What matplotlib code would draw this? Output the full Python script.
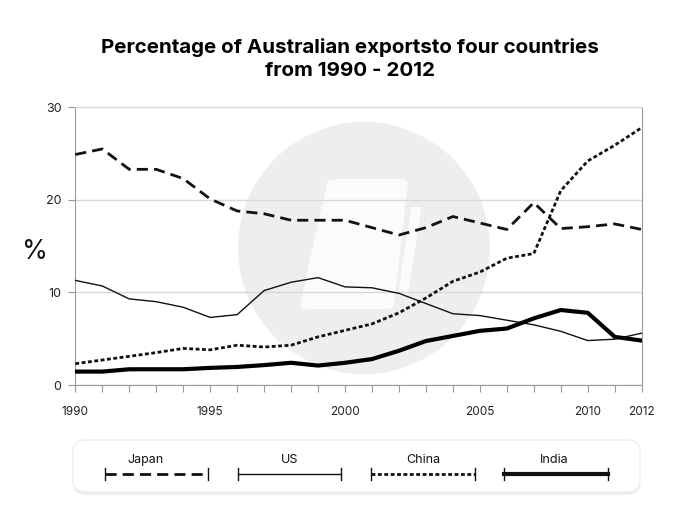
import matplotlib.pyplot as plt
import numpy as np
from matplotlib.patches import Ellipse, FancyBboxPatch, Polygon
from matplotlib.lines import Line2D

# data
pos = np.arange(22)
tick_pos = [0, 5, 10, 15, 19, 21]
tick_lab = ["1990", "1995", "2000", "2005", "2010", "2012"]

japan = [24.9, 25.5, 23.3, 23.3, 22.3, 20.1, 18.8, 18.5, 17.8, 17.8, 17.8,
         17.0, 16.2, 17.0, 18.2, 17.5, 16.8, 19.7, 16.9, 17.1, 17.4, 16.8]
us = [11.3, 10.7, 9.3, 9.0, 8.4, 7.3, 7.6, 10.2, 11.1, 11.6, 10.6,
      10.5, 9.9, 8.8, 7.7, 7.5, 7.0, 6.5, 5.8, 4.8, 4.95, 5.6]
china = [2.3, 2.7, 3.1, 3.5, 3.95, 3.8, 4.3, 4.1, 4.3, 5.2, 5.9,
         6.6, 7.8, 9.4, 11.2, 12.2, 13.7, 14.2, 21.0, 24.2, 25.9, 27.8]
india = [1.45, 1.45, 1.7, 1.7, 1.7, 1.85, 1.95, 2.15, 2.4, 2.1, 2.4,
         2.8, 3.7, 4.75, 5.3, 5.85, 6.1, 7.2, 8.1, 7.8, 5.2, 4.8]

plt.rcParams['font.family'] = ['Inter', 'DejaVu Sans']

W, H = 700, 529
fig = plt.figure(figsize=(7, 5.29), dpi=100)
ax = fig.add_axes([75.3 / W, 1 - 385 / H, (641.7 - 75.3) / W, (385 - 107.3) / H])

def fpt(x, y):
    # pixel position -> figure fraction
    return (x / W, 1 - y / H)

# faint watermark behind the lines
ax.add_patch(Ellipse(fpt(364, 248), 252 / W, 252 / H, transform=fig.transFigure,
                     facecolor='#eeeeee', edgecolor='none', zorder=0.2, clip_on=False))
ax.add_patch(Polygon([fpt(332, 184), fpt(403, 184), fpt(389, 304), fpt(305, 304)], closed=True,
                     transform=fig.transFigure, facecolor='#fbfbfb', edgecolor='#fbfbfb',
                     linewidth=7, joinstyle='round', zorder=0.25, clip_on=False))
ax.add_patch(Polygon([fpt(413, 209), fpt(419, 209), fpt(406, 294), fpt(400, 294)], closed=True,
                     transform=fig.transFigure, facecolor='#fbfbfb', edgecolor='#fbfbfb',
                     linewidth=3, joinstyle='round', zorder=0.25, clip_on=False))

ax.plot(pos, japan, color='#111111', lw=2.0, dashes=(4, 2.2), zorder=3)
ax.plot(pos, us, color='#111111', lw=1.0, zorder=3)
ax.plot(pos, china, color='#111111', lw=2.0, dashes=(1.4, 0.9), zorder=3)
ax.plot(pos, india, color='#000000', lw=3.0, zorder=3)

ax.set_xlim(0, 21)
ax.set_ylim(0, 30)
ax.set_yticks([0, 10, 20, 30])
ax.set_xticks(pos)
ax.set_xticklabels(["" for p in pos])
for p, lab in zip(tick_pos, tick_lab):
    ax.text(p, -2.3, lab, ha='center', va='top', fontsize=8.5, color='#222222')
ax.tick_params(axis='x', length=5, color='#999999', pad=0)
ax.tick_params(axis='y', length=5, color='#999999', labelsize=9, labelcolor='#222222', pad=5)
ax.grid(axis='y', color='#d8d8d8', lw=1)
ax.set_axisbelow(True)
for s in ['left', 'bottom', 'right']:
    ax.spines[s].set_color('#999999')
ax.spines['top'].set_color('#d8d8d8')

fig.text(35 / W, 1 - 252 / H, '%', fontsize=19, ha='center', va='center', color='#111111')
fig.text(0.5, 1 - 59 / H, 'Percentage of Australian exportsto four countries\nfrom 1990 - 2012',
         ha='center', va='center', fontsize=14.8, fontweight='bold', linespacing=1.4)

# legend box with a soft shadow
lx0, lx1, ly0, ly1 = 73, 640, 440, 492
fig.patches.append(FancyBboxPatch(fpt(lx0, ly1 + 3), (lx1 - lx0) / W, (ly1 - ly0) / H,
                                  boxstyle='round,pad=0,rounding_size=0.02', transform=fig.transFigure,
                                  facecolor='#e4e4e4', edgecolor='none', alpha=0.6, figure=fig))
fig.patches.append(FancyBboxPatch(fpt(lx0, ly1), (lx1 - lx0) / W, (ly1 - ly0) / H,
                                  boxstyle='round,pad=0,rounding_size=0.02', transform=fig.transFigure,
                                  facecolor='white', edgecolor='#eeeeee', lw=1, figure=fig))

entries = [("Japan", 145, 105, 208, dict(lw=2.0, dashes=(4, 2.2))),
           ("US", 290, 238, 341, dict(lw=1.0)),
           ("China", 423, 371, 475, dict(lw=2.0, dashes=(1.4, 0.9))),
           ("India", 554, 504, 608, dict(lw=3.0))]
for name, tx, x0, x1, st in entries:
    yy = 1 - 474 / H
    fig.lines.append(Line2D([x0 / W, x1 / W], [yy, yy], color='#111111', transform=fig.transFigure, **st))
    for xe in (x0, x1):
        fig.lines.append(Line2D([xe / W, xe / W], [1 - 468 / H, 1 - 480 / H], color='#111111',
                                lw=1.0, transform=fig.transFigure))
    fig.text(tx / W, 1 - 460 / H, name, ha='center', va='center', fontsize=9, color='#111111')

plt.savefig('out.png', dpi=100)
